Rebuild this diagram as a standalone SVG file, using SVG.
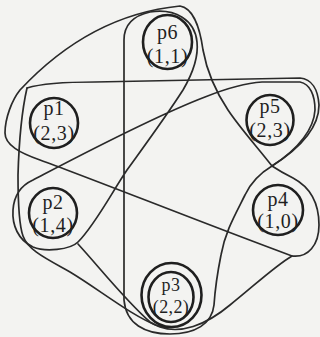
<svg xmlns="http://www.w3.org/2000/svg" width="320" height="337" viewBox="0 0 320 337">
<style>
.bg{fill:#f3f3f1}
.loop{fill:none;stroke:#2a2a2a;stroke-width:1.7;stroke-linejoin:round;stroke-linecap:round}
.node{fill:none;stroke:#1f1f1f;stroke-width:2.6}
.t{font-family:"Liberation Serif","Times New Roman",serif;font-size:20px;fill:#1f1f1f;text-anchor:middle;letter-spacing:0.6px}
.s{font-size:18px;letter-spacing:0.4px}
</style>
<rect class="bg" x="0" y="0" width="320" height="337"/>
<g id="connectors">
<path id="loopA" class="loop" d="M180,6 Q90,15 20,90 C12,100 5,118 5,133 C5,145 20,153 40,160 C90,178 200,222 292,256 C308,258 319,245 319,225 C319,200 308,186 293,178 C285,174 278,170 272,166 C258,148 240,128 228,110 C216,92 207,72 203,50 C200,28 193,8 180,6 Z"/>
<path id="loopF" class="loop" d="M124,300 L124,40 C124,26 132,16 150,12 C175,8 195,20 197,42 C199,60 190,78 183,90 C165,118 145,145 127,170 C112,192 95,225 78,242 C70,250 45,252 33,247 C18,240 12,225 13,210 C14,195 22,185 33,180 C60,166 150,118 205,97 C225,89 245,83 262,82 L300,82 C310,84 315,95 315,110 C314,128 300,148 272,166 C262,172 252,180 245,195 C235,215 225,232 221,255 C217,275 215,290 214,305 C212,324 195,334 170,334 C145,334 126,324 124,300 Z"/>
<path id="loopC" class="loop" d="M27,88 C40,84 60,82 95,82 L300,78 C312,79 318,90 319,105 C319,125 305,145 272,166"/>
<path id="loopC2" class="loop" d="M27,88 C22,110 19,140 18,175 C18,205 19,225 23,236 C28,250 45,258 70,272 C100,290 130,315 160,327 C180,334 205,326 230,305 C255,285 275,266 292,256"/>
<path id="loopB" class="loop" d="M78,244 C100,268 125,300 150,322 C158,327 165,328 172,327"/>
</g>
<g id="p6"><ellipse class="node" cx="167.5" cy="42" rx="24.5" ry="27"/><text class="t" x="167.5" y="39">p6</text><text class="t" x="167.5" y="63">(1,1)</text></g>
<g id="p1"><ellipse class="node" cx="54" cy="123" rx="24" ry="25"/><text class="t" x="54" y="115">p1</text><text class="t" x="54" y="140">(2,3)</text></g>
<g id="p5"><ellipse class="node" cx="270" cy="120" rx="23.5" ry="25"/><text class="t" x="270" y="113">p5</text><text class="t" x="270" y="137">(2,3)</text></g>
<g id="p2"><ellipse class="node" cx="53" cy="213" rx="24" ry="25"/><text class="t" x="53" y="209">p2</text><text class="t" x="53" y="232">(1,4)</text></g>
<g id="p4"><ellipse class="node" cx="278" cy="210" rx="25" ry="25"/><text class="t" x="278" y="206">p4</text><text class="t" x="278" y="228">(1,0)</text></g>
<g id="p3"><ellipse class="node" cx="171.5" cy="295" rx="30" ry="32"/><ellipse class="node" cx="171" cy="297" rx="22.5" ry="25"/><text class="t s" x="171" y="291">p3</text><text class="t s" x="171" y="313">(2,2)</text></g>
</svg>
